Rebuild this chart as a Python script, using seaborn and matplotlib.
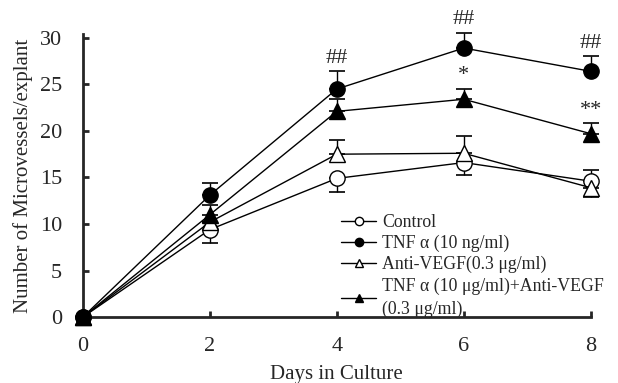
import matplotlib
matplotlib.use("Agg")
import matplotlib.pyplot as plt
import numpy as np
import pandas as pd
import seaborn as sns

days = [0, 2, 4, 6, 8]
groups = ["Control", "TNF α (10 ng/ml)", "Anti-VEGF(0.3 μg/ml)",
          "TNF α (10 μg/ml)+Anti-VEGF\n(0.3 μg/ml)"]
control = [0, 9.4, 14.9, 16.6, 14.6]
tnf = [0, 13.1, 24.5, 28.9, 26.4]
anti_vegf = [0, 10.2, 17.5, 17.6, 13.9]
tnf_anti = [0, 11.0, 22.1, 23.4, 19.7]
# one-sided error bars (lower, upper)
control_err = ([0, 1.4, 1.5, 1.3, 0], [0, 0, 0, 0, 1.2])
tnf_err = ([0, 0, 0, 0, 0], [0, 1.3, 1.9, 1.6, 1.6])
anti_vegf_err = ([0, 0, 0, 0, 1.0], [0, 0, 1.5, 1.9, 0])
tnf_anti_err = ([0, 0, 0, 0, 0], [0, 1.0, 1.3, 1.1, 1.1])
# significance marks: (day, series, text)
marks = [(4, "tnf", "##"), (6, "tnf", "##"), (8, "tnf", "##"),
         (6, "tnf_anti", "*"), (8, "tnf_anti", "**")]

sns.set_theme(style="ticks")
plt.rcParams["font.family"] = ["Liberation Serif", "DejaVu Serif"]

values = [control, tnf, anti_vegf, tnf_anti]
errs = [control_err, tnf_err, anti_vegf_err, tnf_anti_err]
df = pd.DataFrame({
    "day": days * 4,
    "count": sum(values, []),
    "group": [g for g in groups for _ in days],
})

styles = {
    groups[0]: ("o", "white"),
    groups[1]: ("o", "black"),
    groups[2]: ("^", "white"),
    groups[3]: ("^", "black"),
}

fig = plt.figure(figsize=(6.18, 3.83), dpi=100)
ax = fig.add_axes([0.134, 0.172, 0.822, 0.739])

for g, v, e in zip(groups, values, errs):
    m, fc = styles[g]
    ax.errorbar(days, v, yerr=np.array(e), fmt="none", ecolor="black",
                elinewidth=1, capsize=5.5, capthick=1.2, zorder=2, clip_on=False)
    sns.lineplot(data=df[df["group"] == g], x="day", y="count", ax=ax,
                 color="black", linewidth=1, marker=m, markersize=11,
                 markerfacecolor=fc, markeredgecolor="black",
                 markeredgewidth=1, label=g, zorder=3, clip_on=False,
                 legend=False)

lookup = {"tnf": (tnf, tnf_err), "tnf_anti": (tnf_anti, tnf_anti_err)}
for x, key, txt in marks:
    series, err = lookup[key]
    i = days.index(x)
    ax.text(x, series[i] + err[1][i] + 0.4, txt, ha="center", va="bottom",
            fontsize=16)

ax.set_xlim(0, 8)
ax.set_ylim(0, 30.4)
ax.set_xticks(days)
ax.set_yticks(range(0, 31, 5))
ax.tick_params(direction="in", length=4, width=2, labelsize=16)
ax.tick_params(axis="y", pad=15)
ax.tick_params(axis="x", pad=14)
for s in ["left", "bottom"]:
    ax.spines[s].set_linewidth(2)
sns.despine(ax=ax)
ax.set_xlabel("Days in Culture", fontsize=15, labelpad=7)
ax.set_ylabel("Number of Microvessels/explant", fontsize=15, labelpad=5)

handles = [
    plt.Line2D([], [], color="black", lw=1, marker=styles[g][0], markersize=6,
               markerfacecolor=styles[g][1], markeredgecolor="black")
    for g in groups
]
leg = ax.legend(handles, groups, loc="upper left", bbox_to_anchor=(0.494, 0.39),
                frameon=False, fontsize=12.8, handlelength=2.0,
                handletextpad=0.3, labelspacing=0.22, borderaxespad=0)
leg.get_texts()[-1].set_linespacing(1.45)

fig.savefig("out.png", dpi=100)
